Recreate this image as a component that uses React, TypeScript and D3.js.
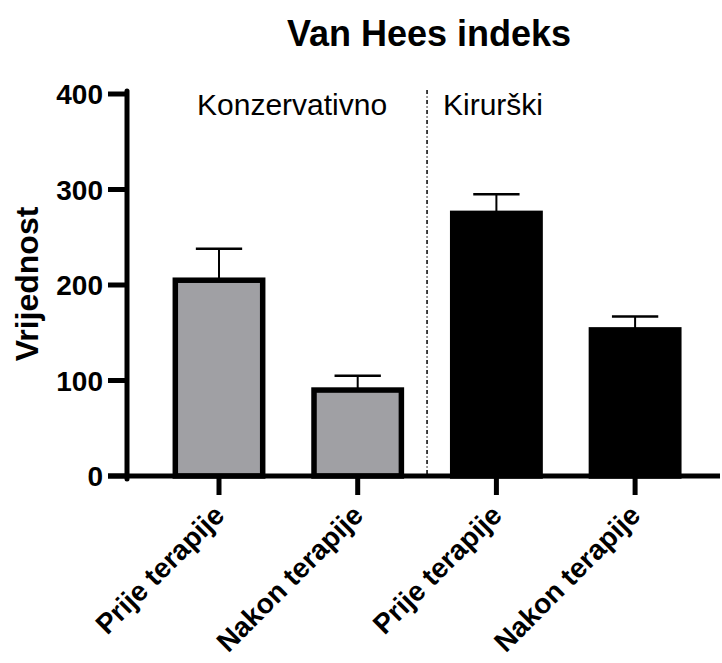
import React from "react";
import * as d3 from "d3";

const categories = ["Prije terapije", "Nakon terapije", "Prije terapije", "Nakon terapije"];
const groups = ["Konzervativno", "Konzervativno", "Kirurški", "Kirurški"];
const means = [205, 90, 275, 153];
const errors = [33, 15, 20, 14];
const yTicks = [0, 100, 200, 300, 400];
const groupLabels = ["Konzervativno", "Kirurški"];

const W = 722;
const H = 663;
const FONT = "'Liberation Sans', Arial, Helvetica, sans-serif";

export default function App() {
  const ids = categories.map((_, i) => String(i));
  const x = d3.scaleBand<string>().domain(ids).range([149.65, 704.45]).paddingInner(0.37).paddingOuter(0.185);
  const y = d3.scaleLinear().domain([0, 400]).range([476, 94]);
  const axisX = 127;
  const y0 = y(0);
  const bw = x.bandwidth();
  const capW = bw * 0.53;
  const fills = groups.map((g) => (g === "Konzervativno" ? "#a0a0a4" : "#000000"));
  const dividerX = (x("1")! + bw + x("2")!) / 2;

  return (
    <svg width={W} height={H} style={{ position: "absolute", left: 0, top: 0, background: "#fff" }} fontFamily={FONT}>
      <text x={429} y={46} textAnchor="middle" fontSize={36} fontWeight="bold">Van Hees indeks</text>
      <text transform={`translate(38,284) rotate(-90)`} textAnchor="middle" fontSize={32} fontWeight="bold">Vrijednost</text>

      {/* bars */}
      {means.map((m, i) => {
        const bx = x(String(i))!;
        const cx = bx + bw / 2;
        const top = y(m);
        const errTop = y(m + errors[i]);
        return (
          <g key={i}>
            <line x1={cx} x2={cx} y1={top} y2={errTop} stroke="#000" strokeWidth={2} />
            <line x1={cx - capW / 2} x2={cx + capW / 2} y1={errTop} y2={errTop} stroke="#000" strokeWidth={2.5} />
            <rect x={bx} y={top} width={bw} height={y0 - top} fill={fills[i]} stroke="#000" strokeWidth={5.5} />
          </g>
        );
      })}

      {/* divider */}
      <line x1={dividerX} x2={dividerX} y1={90} y2={474} stroke="#000" strokeWidth={1.5} strokeDasharray="4,2.5,1,2.5" />

      {/* group labels */}
      <text x={197} y={115} fontSize={30}>{groupLabels[0]}</text>
      <text x={443} y={115} fontSize={30}>{groupLabels[1]}</text>

      {/* y axis */}
      <line x1={axisX} x2={axisX} y1={y(400) - 3} y2={y0 + 3} stroke="#000" strokeWidth={5} strokeLinecap="round" />
      {yTicks.map((t) => (
        <g key={t}>
          <line x1={108} x2={axisX} y1={y(t)} y2={y(t)} stroke="#000" strokeWidth={5} />
          <text x={103} y={y(t)} dy="0.36em" textAnchor="end" fontSize={28} fontWeight="bold">{t}</text>
        </g>
      ))}

      {/* x axis */}
      <line x1={108} x2={720} y1={y0} y2={y0} stroke="#000" strokeWidth={5} />
      {categories.map((c, i) => {
        const cx = x(String(i))! + bw / 2;
        return (
          <g key={i}>
            <line x1={cx} x2={cx} y1={y0} y2={y0 + 19} stroke="#000" strokeWidth={5} />
            <text transform={`translate(${cx + 7},${y0 + 41}) rotate(-45)`} textAnchor="end" fontSize={28} fontWeight="bold">{c}</text>
          </g>
        );
      })}
    </svg>
  );
}
